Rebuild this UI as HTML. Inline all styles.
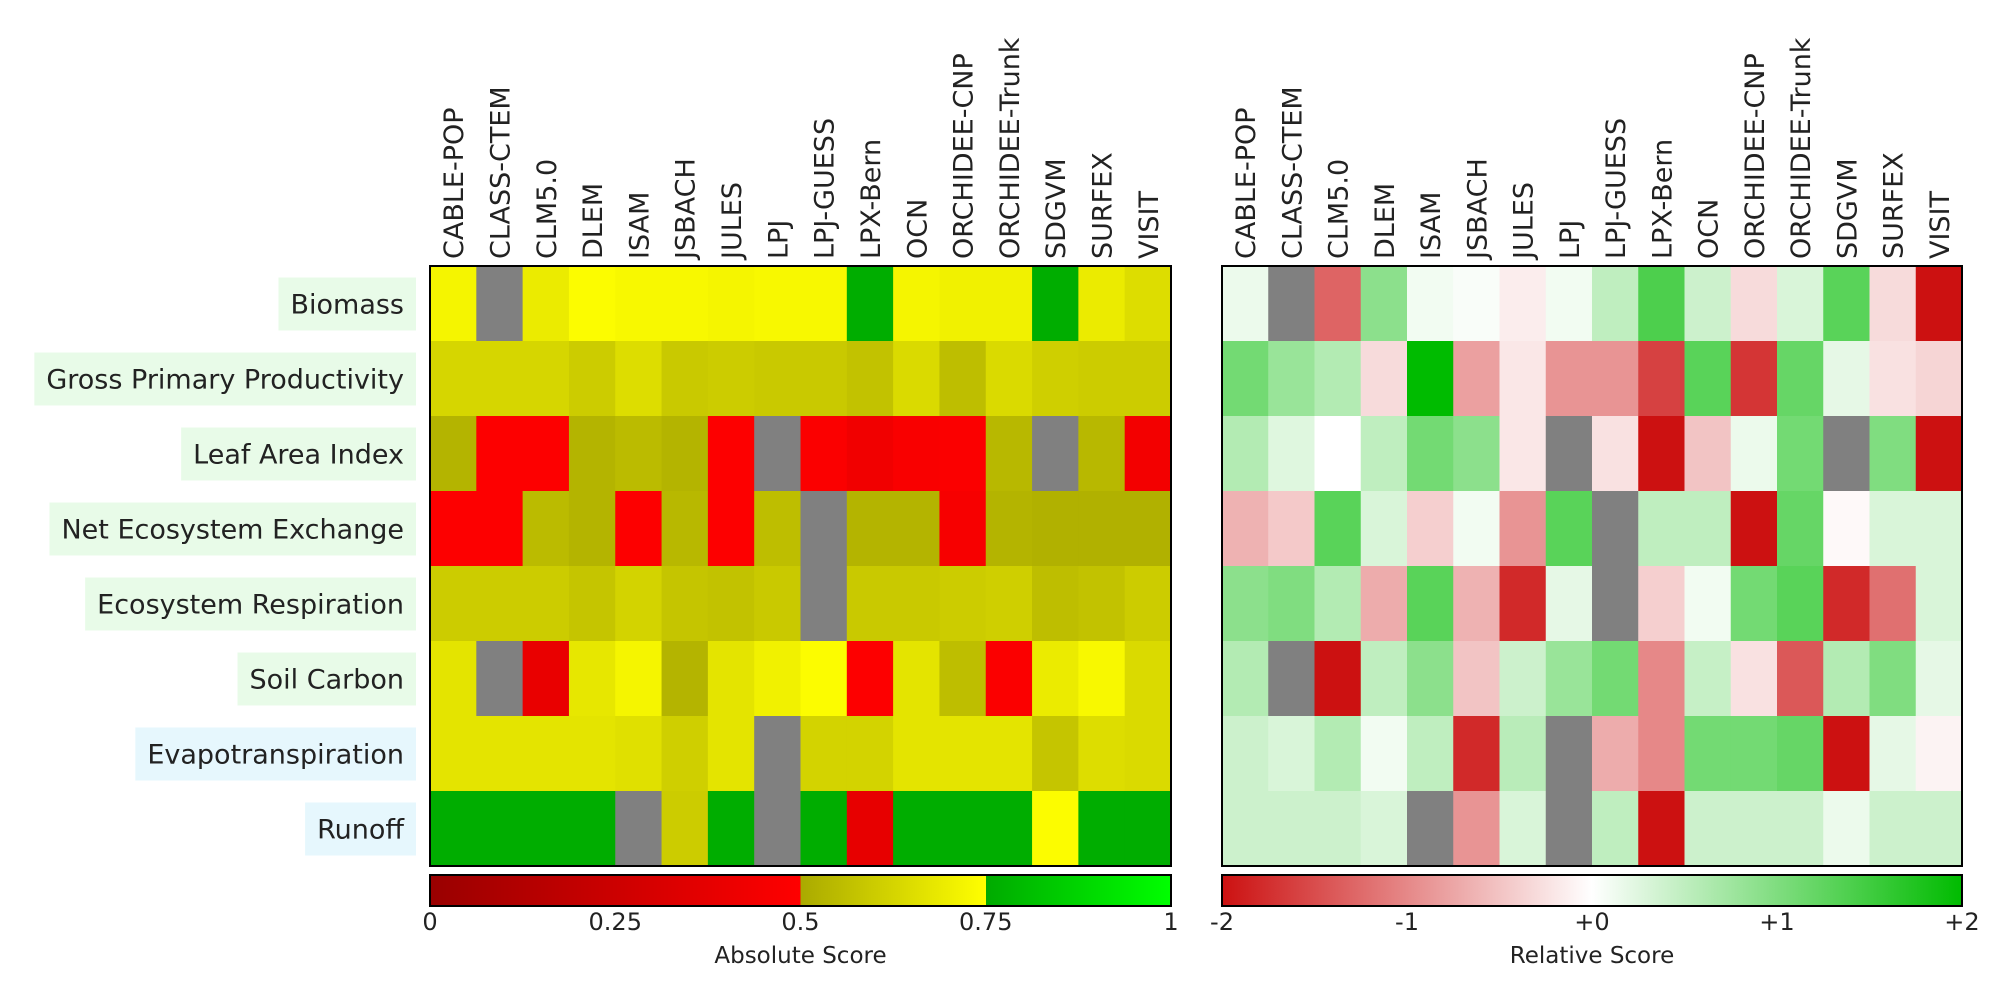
<!DOCTYPE html>
<html><head><meta charset="utf-8">
<style>
html,body{margin:0;padding:0;background:#fff;}
body{width:2004px;height:983px;overflow:hidden;font-family:"DejaVu Sans","Liberation Sans",sans-serif;}
svg text{font-family:"DejaVu Sans","Liberation Sans",sans-serif;fill:#222;}
</style></head>
<body>
<svg id="chart" width="2004" height="983" xmlns="http://www.w3.org/2000/svg">
<defs>
<linearGradient id="gAbs" x1="0" x2="1" y1="0" y2="0">
<stop offset="0" stop-color="#990000"/><stop offset="0.5" stop-color="#ff0000"/>
<stop offset="0.5" stop-color="#aaaa00"/><stop offset="0.75" stop-color="#ffff00"/>
<stop offset="0.75" stop-color="#00aa00"/><stop offset="1" stop-color="#00ff00"/>
</linearGradient>
<linearGradient id="gRel" x1="0" x2="1" y1="0" y2="0">
<stop offset="0" stop-color="#cc1111"/><stop offset="0.5" stop-color="#ffffff"/><stop offset="1" stop-color="#00bb00"/>
</linearGradient>
</defs>
</svg>
<script>
const models = ["CABLE-POP","CLASS-CTEM","CLM5.0","DLEM","ISAM","JSBACH","JULES","LPJ","LPJ-GUESS","LPX-Bern","OCN","ORCHIDEE-CNP","ORCHIDEE-Trunk","SDGVM","SURFEX","VISIT"];
const variables = ["Biomass","Gross Primary Productivity","Leaf Area Index","Net Ecosystem Exchange","Ecosystem Respiration","Soil Carbon","Evapotranspiration","Runoff"];
const labelGroups = ["eco","eco","eco","eco","eco","eco","hyd","hyd"];
const absBiomass = [0.72,null,0.69,0.74,0.73,0.73,0.72,0.73,0.73,0.76,0.72,0.71,0.71,0.76,0.69,0.65];
const absGPP = [0.63,0.63,0.63,0.60,0.65,0.59,0.60,0.59,0.59,0.57,0.64,0.56,0.64,0.61,0.60,0.60];
const absLAI = [0.53,0.49,0.49,0.53,0.55,0.53,0.49,null,0.48,0.43,0.47,0.48,0.54,null,0.54,0.44];
const absNEE = [0.49,0.49,0.55,0.53,0.49,0.54,0.49,0.56,null,0.53,0.53,0.46,0.53,0.52,0.52,0.52];
const absER = [0.60,0.60,0.60,0.58,0.62,0.58,0.57,0.59,null,0.59,0.59,0.60,0.61,0.56,0.57,0.60];
const absSoil = [0.67,null,0.39,0.68,0.72,0.53,0.67,0.71,0.74,0.49,0.67,0.56,0.48,0.69,0.73,0.64];
const absET = [0.67,0.67,0.67,0.67,0.66,0.61,0.67,null,0.62,0.62,0.67,0.67,0.67,0.58,0.65,0.64];
const absRunoff = [0.76,0.76,0.76,0.76,null,0.60,0.76,null,0.76,0.38,0.76,0.76,0.76,0.74,0.76,0.76];
const relBiomass = [0.15,null,-1.3,0.9,0.1,0.05,-0.15,0.1,0.5,1.4,0.4,-0.3,0.3,1.3,-0.3,-2];
const relGPP = [1.1,0.8,0.6,-0.3,2.0,-0.8,-0.2,-0.9,-0.9,-1.6,1.3,-1.7,1.2,0.2,-0.25,-0.35];
const relLAI = [0.6,0.25,0,0.5,1.1,0.9,-0.2,null,-0.25,-2,-0.5,0.15,1.1,null,1.0,-2];
const relNEE = [-0.65,-0.45,1.3,0.3,-0.4,0.1,-0.9,1.3,null,0.5,0.5,-2,1.2,-0.05,0.3,0.3];
const relER = [0.9,1.0,0.6,-0.7,1.3,-0.65,-1.8,0.2,null,-0.4,0.1,1.1,1.3,-1.8,-1.2,0.3];
const relSoil = [0.6,null,-2,0.5,0.9,-0.5,0.4,0.8,1.1,-1.0,0.45,-0.25,-1.4,0.6,1.0,0.2];
const relET = [0.4,0.3,0.6,0.1,0.5,-1.8,0.55,null,-0.7,-1.0,1.1,1.1,1.2,-2,0.2,-0.1];
const relRunoff = [0.4,0.4,0.4,0.3,null,-0.9,0.3,null,0.5,-2,0.4,0.4,0.4,0.15,0.4,0.4];
const absTicks = [0,0.25,0.5,0.75,1];
const absTickLabels = ["0","0.25","0.5","0.75","1"];
const relTicks = [-2,-1,0,1,2];
const relTickLabels = ["-2","-1","+0","+1","+2"];

const absRows = [absBiomass,absGPP,absLAI,absNEE,absER,absSoil,absET,absRunoff];
const relRows = [relBiomass,relGPP,relLAI,relNEE,relER,relSoil,relET,relRunoff];

const NS = "http://www.w3.org/2000/svg";
const svgEl = document.getElementById('chart');
function mk(tag, attrs, parent){const e=document.createElementNS(NS,tag);for(const k in attrs)e.setAttribute(k,attrs[k]);(parent||svgEl).appendChild(e);return e;}
function lerp(a,b,t){return Math.round(a+(b-a)*t);}
function mix(c1,c2,t){return `rgb(${lerp(c1[0],c2[0],t)},${lerp(c1[1],c2[1],t)},${lerp(c1[2],c2[2],t)})`;}
function absColor(v){
  if(v<0.5) return mix([153,0,0],[255,0,0],v/0.5);
  if(v<0.75) return mix([170,170,0],[255,255,0],(v-0.5)/0.25);
  return mix([0,170,0],[0,255,0],(v-0.75)/0.25);
}
function relColor(v){
  v=Math.max(-2,Math.min(2,v));
  if(v<0) return mix([255,255,255],[204,17,17],-v/2);
  return mix([255,255,255],[0,187,0],v/2);
}
const gridTop=266, gridBottom=866, rowH=(gridBottom-gridTop)/variables.length;
const panels=[{x0:430,x1:1171,rows:absRows,color:absColor,name:'absolute'},{x0:1222,x1:1962,rows:relRows,color:relColor,name:'relative'}];
const yOf = i => gridTop + i*rowH;

panels.forEach(p=>{
  const cw=(p.x1-p.x0)/models.length;
  const xOf = j => p.x0 + j*cw;
  const g=mk('g',{});
  
  
  p.rows.forEach((row,i)=>{
    row.forEach((v,j)=>{
      const r=mk('rect',{x:xOf(j),y:yOf(i),width:cw+0.5,height:rowH+0.5,fill:v===null?'#808080':p.color(v)},g);
      
      
    });
  });
  const fr=mk('rect',{x:p.x0,y:gridTop,width:p.x1-p.x0,height:gridBottom-gridTop,fill:'none',stroke:'#000','stroke-width':2});
  
  
  models.forEach((m,j)=>{
    const cx=xOf(j)+cw/2+10;
    const t=mk('text',{x:0,y:0,transform:`translate(${cx},259) rotate(-90)`,'font-size':27});
    t.textContent=m;
    
    
  });
});

variables.forEach((v,i)=>{
  const cy=yOf(i)+rowH/2;
  const t=mk('text',{x:404,y:cy+10,'text-anchor':'end','font-size':27});
  t.textContent=v;
  
  
  let w=0;
  try{w=t.getComputedTextLength();}catch(e){w=v.length*15;}
  if(!w) w=v.length*15;
  const b=mk('rect',{x:404-w-12,y:cy-26,width:w+24,height:53,fill:labelGroups[i]==='eco'?'#e8fbe8':'#e6f7fd'});
  svgEl.insertBefore(b,t);
  
  
});

function colorbar(x0,x1,grad,ticks,labels,min,max,title,name){
  const r=mk('rect',{x:x0,y:875,width:x1-x0,height:31,fill:`url(#${grad})`,stroke:'#000','stroke-width':2});
  
  
  ticks.forEach((tv,k)=>{
    const x=x0+(tv-min)/(max-min)*(x1-x0);
    const t=mk('text',{x:x,y:930,'text-anchor':'middle','font-size':24});
    t.textContent=labels[k];
    
    
  });
  const tt=mk('text',{x:(x0+x1)/2,y:963,'text-anchor':'middle','font-size':23});
  tt.textContent=title;
  
  
}
colorbar(430,1171,'gAbs',absTicks,absTickLabels,0,1,'Absolute Score','absolute');
colorbar(1222,1962,'gRel',relTicks,relTickLabels,-2,2,'Relative Score','relative');
</script>
</body></html>
